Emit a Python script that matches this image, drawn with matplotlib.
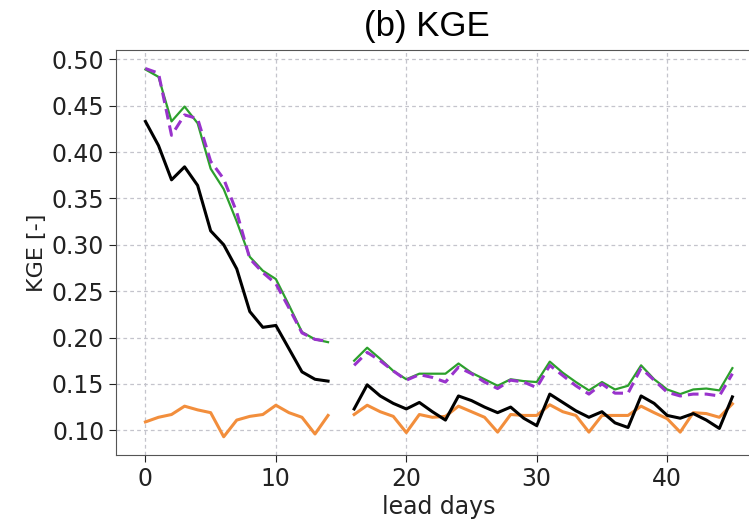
import numpy as np
import matplotlib
matplotlib.use("Agg")
import matplotlib.pyplot as plt

nan = np.nan
lead_days = list(range(46))

green = [0.489, 0.481, 0.433, 0.449, 0.431, 0.382, 0.360, 0.325, 0.287, 0.272,
         0.263, 0.235, 0.206, 0.198, 0.195, nan,
         0.175, 0.189, 0.177, 0.164, 0.155, 0.161, 0.161, 0.161, 0.172, 0.162,
         0.155, 0.148, 0.155, 0.153, 0.152, 0.174, 0.162, 0.152, 0.143, 0.152,
         0.144, 0.148, 0.170, 0.155, 0.144, 0.139, 0.144, 0.145, 0.143, 0.167]

purple = [0.490, 0.485, 0.418, 0.440, 0.436, 0.390, 0.371, 0.335, 0.285, 0.270,
          0.258, 0.232, 0.205, 0.198, 0.196, nan,
          0.170, 0.184, 0.175, 0.164, 0.154, 0.160, 0.157, 0.152, 0.168, 0.161,
          0.152, 0.145, 0.154, 0.152, 0.146, 0.170, 0.159, 0.148, 0.139, 0.150,
          0.140, 0.140, 0.167, 0.154, 0.141, 0.137, 0.139, 0.139, 0.137, 0.161]

black = [0.433, 0.407, 0.370, 0.384, 0.364, 0.315, 0.300, 0.274, 0.228, 0.211,
         0.213, 0.188, 0.163, 0.155, 0.153, nan,
         0.123, 0.149, 0.137, 0.129, 0.123, 0.130, 0.120, 0.111, 0.137, 0.132,
         0.125, 0.119, 0.125, 0.113, 0.105, 0.139, 0.130, 0.121, 0.114, 0.120,
         0.108, 0.103, 0.137, 0.129, 0.116, 0.113, 0.118, 0.111, 0.102, 0.136]

orange = [0.109, 0.114, 0.117, 0.126, 0.122, 0.119, 0.093, 0.111, 0.115, 0.117,
          0.127, 0.119, 0.114, 0.096, 0.116, nan,
          0.117, 0.127, 0.120, 0.115, 0.0975, 0.117, 0.114, 0.115, 0.126, 0.120,
          0.114, 0.098, 0.117, 0.116, 0.116, 0.1275, 0.120, 0.116, 0.098, 0.116,
          0.116, 0.116, 0.126, 0.119, 0.1125, 0.098, 0.119, 0.118, 0.114, 0.1285]

fig = plt.figure(figsize=(7.49, 5.22), dpi=100)
ax = fig.add_axes([0.155, 0.128, 0.862, 0.776])

ax.plot(lead_days, orange, color="#f28e3c", lw=2.2)
ax.plot(lead_days, black, color="black", lw=2.2)
ax.plot(lead_days, green, color="#2ca02c", lw=1.6)
ax.plot(lead_days, purple, color="#9933cc", lw=2.2, ls=(0, (3.5, 2)))

ax.grid(True, ls=(0, (3, 2.5)), color="#c4c4cc", lw=0.9)
ax.set_axisbelow(True)
ax.set_yticks([0.10, 0.15, 0.20, 0.25, 0.30, 0.35, 0.40, 0.45, 0.50])
ax.set_xticks([0, 10, 20, 30, 40])
ax.tick_params(labelsize=17, colors="#222222", length=5)
for s in ax.spines.values():
    s.set_color("#555555")
ax.set_xlabel("lead days", fontsize=17, color="#222222", labelpad=3)
ax.set_ylabel("KGE [-]", fontsize=16, color="#222222", labelpad=3)
ax.set_title("(b) KGE", fontsize=25, family="Liberation Sans", pad=10, x=0.481)

fig.savefig("out.png", dpi=100)
